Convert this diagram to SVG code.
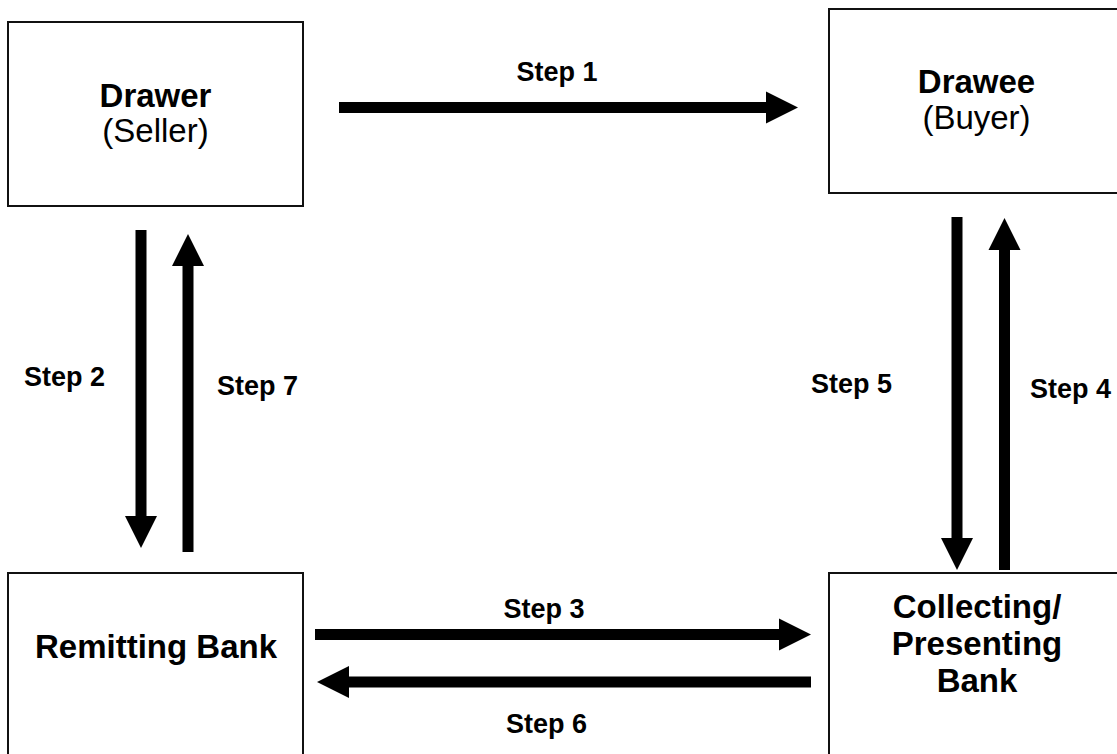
<svg xmlns="http://www.w3.org/2000/svg" width="1117" height="754" viewBox="0 0 1117 754">
<style>
.box{fill:#fff;stroke:#111;stroke-width:2}
.bt{font-family:"Liberation Sans",Arial,sans-serif;font-size:33px;font-weight:bold;fill:#000;text-anchor:middle}
.rt{font-family:"Liberation Sans",Arial,sans-serif;font-size:33px;fill:#000;text-anchor:middle}
.lbl{font-family:"Liberation Sans",Arial,sans-serif;font-size:27px;font-weight:bold;fill:#000}
.arr{stroke:#000;stroke-width:11;fill:none;marker-end:url(#head)}
</style>
<defs>
<marker id="head" markerUnits="userSpaceOnUse" markerWidth="32" markerHeight="32" refX="0" refY="16" orient="auto" overflow="visible">
<path d="M0,0 L32,16 L0,32 Z" fill="#000"/>
</marker>
</defs>
<g id="drawer">
<rect class="box" x="8" y="22" width="295" height="184"/>
<text class="bt" x="155.5" y="107">Drawer</text>
<text class="rt" x="155.5" y="142">(Seller)</text>
</g>
<g id="drawee">
<rect class="box" x="829" y="9" width="295" height="184"/>
<text class="bt" x="976.5" y="93">Drawee</text>
<text class="rt" x="976.5" y="129">(Buyer)</text>
</g>
<g id="remitting">
<rect class="box" x="8" y="573" width="295" height="190"/>
<text class="bt" x="156" y="658">Remitting Bank</text>
</g>
<g id="collecting">
<rect class="box" x="829" y="573" width="295" height="190"/>
<text class="bt" x="977" y="618">Collecting/</text>
<text class="bt" x="977" y="655">Presenting</text>
<text class="bt" x="977" y="692">Bank</text>
</g>
<g id="connectors">
<line class="arr" x1="339" y1="107.5" x2="766" y2="107.5"/>
<line class="arr" x1="315" y1="634.5" x2="779" y2="634.5"/>
<line class="arr" x1="811" y1="682" x2="349" y2="682"/>
<line class="arr" x1="141" y1="230" x2="141" y2="516"/>
<line class="arr" x1="188" y1="552" x2="188" y2="266"/>
<line class="arr" x1="957" y1="217" x2="957" y2="538"/>
<line class="arr" x1="1004.5" y1="570" x2="1004.5" y2="250"/>
<text class="lbl" x="557" y="81" text-anchor="middle">Step 1</text>
<text class="lbl" x="24" y="386">Step 2</text>
<text class="lbl" x="544" y="618" text-anchor="middle">Step 3</text>
<text class="lbl" x="1030" y="398">Step 4</text>
<text class="lbl" x="811" y="393">Step 5</text>
<text class="lbl" x="546.5" y="733" text-anchor="middle">Step 6</text>
<text class="lbl" x="217" y="395">Step 7</text>
</g>
</svg>
